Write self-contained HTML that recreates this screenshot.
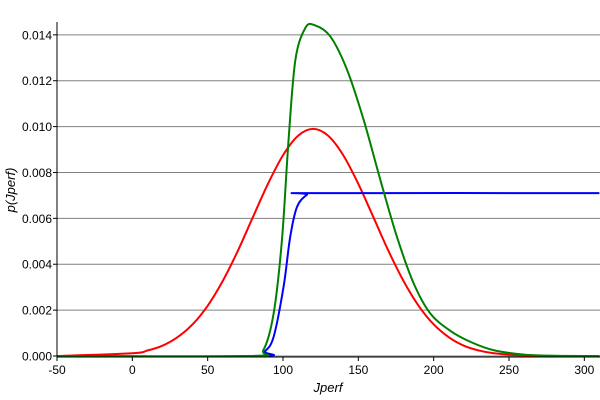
<!DOCTYPE html>
<html><head><meta charset="utf-8"><style>
body{margin:0;background:#fff;}
svg{display:block;font-family:"Liberation Sans",sans-serif;}
</style></head><body>
<svg id="chart" width="600" height="400" viewBox="0 0 600 400">
<g id="grid"></g>
<g id="series"></g>
<g id="axes"></g>
<text x="328" y="392" font-size="13" font-style="italic" text-anchor="middle">Jperf</text>
<text x="0" y="0" font-size="13" font-style="italic" text-anchor="middle" transform="translate(15,190) rotate(-90)">p(Jperf)</text>
</svg>
<script>
const xTicks = [-50, 0, 50, 100, 150, 200, 250, 300];
const yTicks = [0, 0.002, 0.004, 0.006, 0.008, 0.010, 0.012, 0.014];
const yTickLabels = ["0.000","0.002","0.004","0.006","0.008","0.010","0.012","0.014"];
const redX = [-50,0,10,20,30,40,50,60,70,80,90,100,110,120,130,140,150,160,170,180,190,200,210,220,230,240,260,280,310];
const redY = [0,0.00012,0.00024,0.00045,0.00082,0.00138,0.00219,0.00327,0.00458,0.00605,0.0075,0.00875,0.0096,0.0099,0.0096,0.00875,0.0075,0.00605,0.00458,0.00327,0.00219,0.00138,0.00082,0.00045,0.00024,0.00012,0.00002,0,0];
const greenX = [-50,78,87,93.8,99.3,103.7,108.2,114.8,121,131.4,142.5,153.5,164.6,175.6,186.7,197.7,211,225,240,260,280,310];
const greenY = [0,0,0.00026,0.00186,0.00506,0.00943,0.0129,0.0143,0.01442,0.01393,0.01248,0.0103,0.00768,0.0052,0.00317,0.00186,0.0011,0.0006,0.00025,0.00006,0.00001,0];
const blueX = [-50,82.7,88,93.8,100.4,104.8,109.3,115.9,121,310];
const blueY = [0,0,0.0002,0.00084,0.00303,0.0052,0.0065,0.00703,0.0071,0.0071];

const L=57,R=600,T=22,B=356;
const xMin=-50,xMax=310.4,yMax=0.01456;
const sx=v=>L+(v-xMin)/(xMax-xMin)*(R-L);
const sy=v=>B-v/yMax*(B-T);
const NS="http://www.w3.org/2000/svg";
const grid=document.getElementById('grid'),axes=document.getElementById('axes'),series=document.getElementById('series');
function mk(tag,attrs,parent){const e=document.createElementNS(NS,tag);for(const k in attrs)e.setAttribute(k,attrs[k]);parent.appendChild(e);return e;}
yTicks.forEach((t,i)=>{
  const y=sy(t);
  const g=mk('line',{x1:L,x2:R,y1:y,y2:y,stroke:'#808080','stroke-width':1},grid);
  
  
  const tk=mk('line',{x1:L-4,x2:L,y1:y,y2:y,stroke:'#000'},axes);
  
  
  const tx=mk('text',{x:L-5,y:y+4.5,'font-size':12,'text-anchor':'end'},axes);
  tx.textContent=yTickLabels[i];
  
  
});
xTicks.forEach(t=>{
  const x=sx(t);
  const tk=mk('line',{x1:x,x2:x,y1:B+1,y2:B+5,stroke:'#000'},axes);
  
  
  const tx=mk('text',{x:x,y:B+18,'font-size':12,'text-anchor':'middle'},axes);
  tx.textContent=String(t);
  
  
});
const xa=mk('line',{x1:L,x2:R,y1:B+1,y2:B+1,stroke:'#000'},axes);


const ya=mk('line',{x1:L,x2:L,y1:T,y2:B+1,stroke:'#000'},axes);


function line(xs,ys,color,name){
  // monotone-ish smooth via Catmull-Rom
  const p=xs.map((x,i)=>[sx(x),sy(ys[i])]);
  let d='M'+p[0][0]+','+p[0][1];
  for(let i=0;i<p.length-1;i++){
    const p0=p[Math.max(0,i-1)],p1=p[i],p2=p[i+1],p3=p[Math.min(p.length-1,i+2)];
    const c1=[p1[0]+(p2[0]-p0[0])/6,p1[1]+(p2[1]-p0[1])/6];
    const c2=[p2[0]-(p3[0]-p1[0])/6,p2[1]-(p3[1]-p1[1])/6];
    d+=`C${c1[0]},${c1[1]} ${c2[0]},${c2[1]} ${p2[0]},${p2[1]}`;
  }
  const e=mk('path',{d:d,fill:'none',stroke:color,'stroke-width':2},series);
  
  
}
line(redX,redY,'#ff0000','red-series-line');
line(blueX,blueY,'#0000ff','blue-series-line');
line(greenX,greenY,'#008000','green-series-line');
</script>
</body></html>
